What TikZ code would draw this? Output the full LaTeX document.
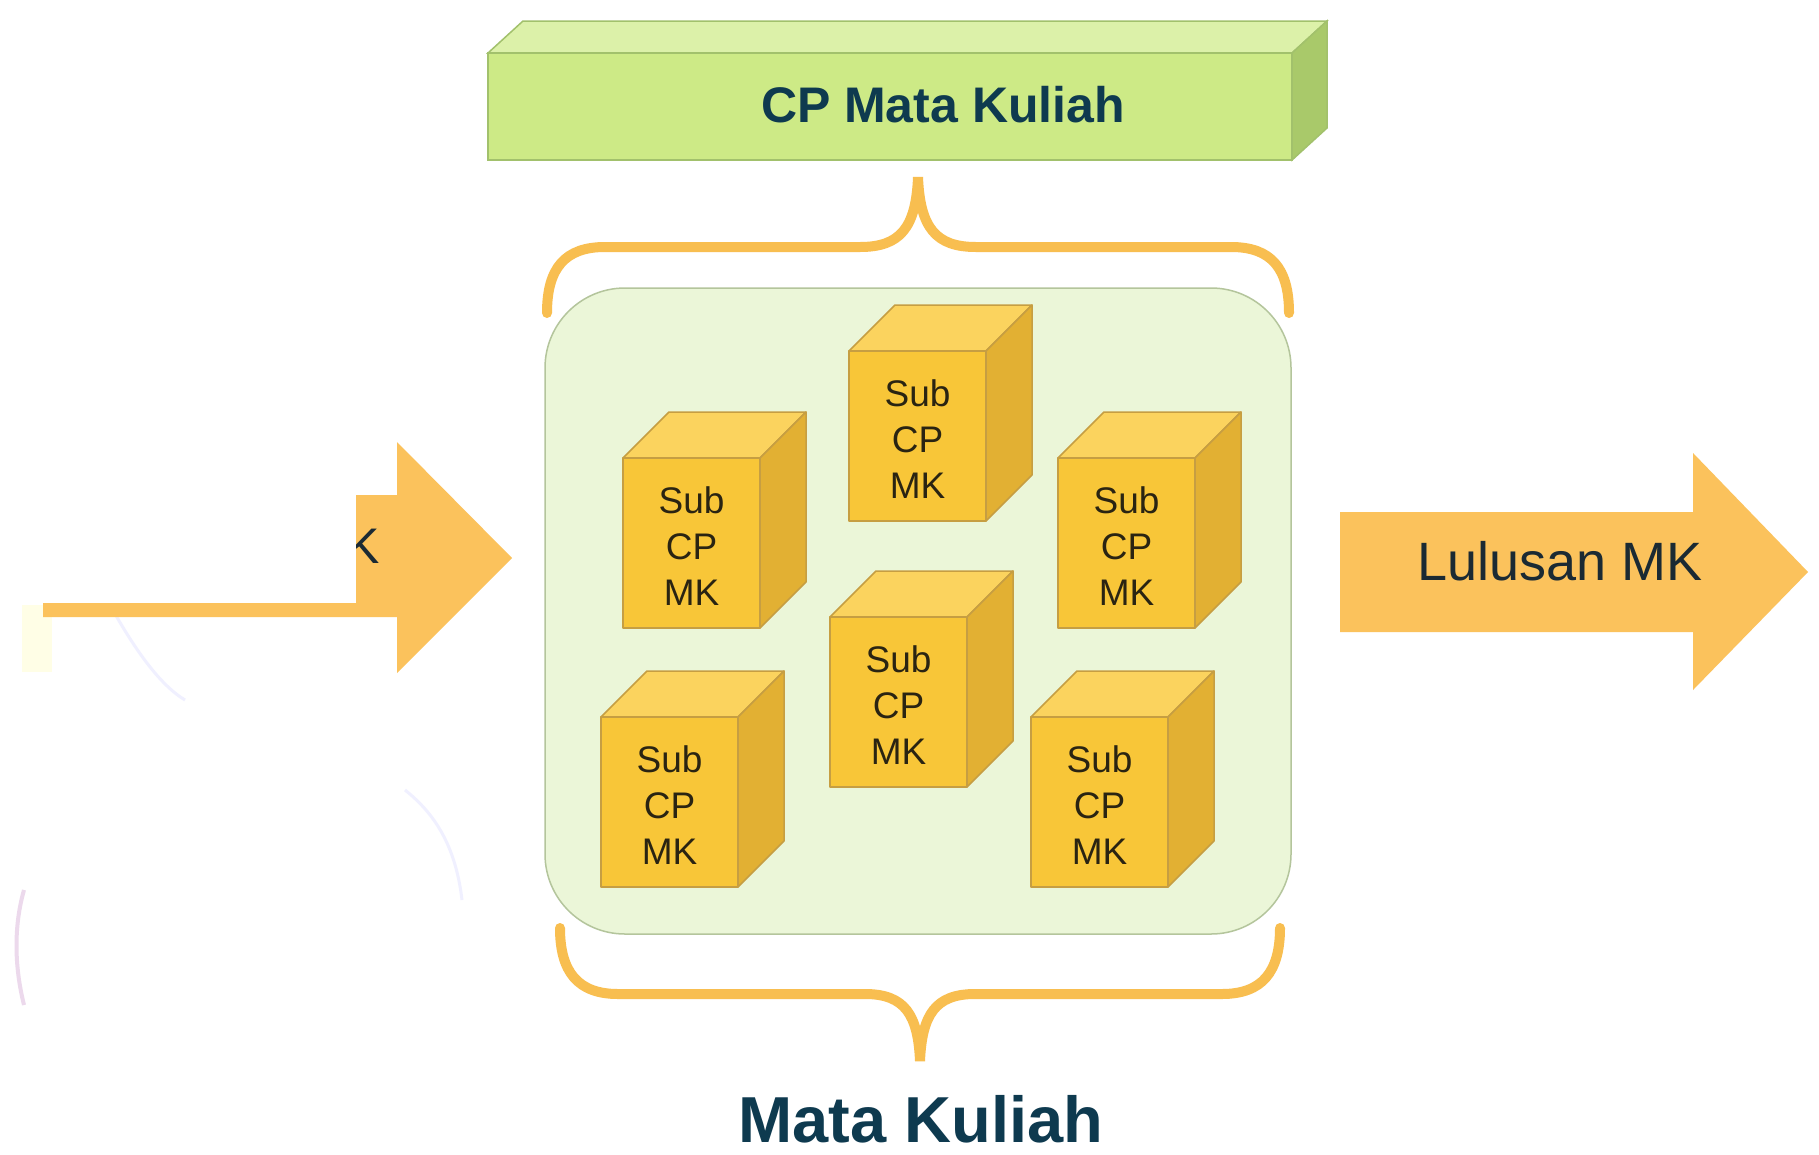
\documentclass[tikz,border=0pt]{standalone}
\usepackage{fontspec}
\setmainfont{Liberation Sans}
\definecolor{orng}{HTML}{FBC25C}
\definecolor{bracec}{HTML}{F8BE50}
\definecolor{barfront}{HTML}{CDEA86}
\definecolor{bartop}{HTML}{DCF1A9}
\definecolor{barside}{HTML}{A9C96A}
\definecolor{baredge}{HTML}{A2C16C}
\definecolor{panelfill}{HTML}{EBF6D8}
\definecolor{paneledge}{HTML}{B4C59C}
\definecolor{cubefront}{HTML}{F8C638}
\definecolor{cubetop}{HTML}{FBD35E}
\definecolor{cubeside}{HTML}{E2B033}
\definecolor{cubeedge}{HTML}{C69E42}
\definecolor{cubetxt}{HTML}{2A2412}
\definecolor{headtxt}{HTML}{0E3A4F}
\definecolor{arrtxt}{HTML}{1B2A33}
\tikzset{
  brace/.style={draw=bracec,line width=10pt,line cap=round},
  arrowfill/.style={fill=orng},
  cubetext/.style={font=\fontsize{37}{46}\selectfont,align=center,text=cubetxt,inner sep=0pt},
  headtext/.style={font=\bfseries\fontsize{50}{56}\selectfont,text=headtxt,inner sep=0pt},
  bigtext/.style={font=\bfseries\fontsize{65}{70}\selectfont,text=headtxt,inner sep=0pt},
  arrowtext/.style={font=\fontsize{54}{60}\selectfont,text=arrtxt,inner sep=0pt},
  cubeline/.style={draw=cubeedge,line width=1.5pt,line join=round}
}
\newcommand\subcube[3]{%
  \filldraw[cubeline,fill=cubetop] (#2,#3) -- ++(46,-46) -- ++(137,0) -- ++(-46,46) -- cycle;
  \filldraw[cubeline,fill=cubeside] (#2+137,#3) -- ++(46,-46) -- ++(0,170) -- ++(-46,46) -- cycle;
  \filldraw[cubeline,fill=cubefront] (#2,#3) rectangle ++(137,170);
  \node[cubetext] (#1) at (#2+68.5,#3+88) {Sub\\CP\\MK};
}
\begin{document}
\begin{tikzpicture}[x=1pt,y=-1pt]
\useasboundingbox (0,0) rectangle (1819,1154);
\fill[white] (0,0) rectangle (1819,1154);

% faint remnants at the left
\fill[yellow!10] (22,605) rectangle (52,672);
\draw[blue!6,line width=3pt] (110,605) .. controls (135,650) and (160,685) .. (185,700);
\draw[blue!6,line width=3pt] (405,790) .. controls (430,810) and (455,840) .. (462,900);
\draw[violet!15,line width=4pt] (24,890) .. controls (14,925) and (14,965) .. (24,1005);

% left arrow (partly hidden)
\fill[arrowfill] (356,495) -- (397,495) -- (397,442) -- (512,558) -- (397,673)
  -- (397,617) -- (43,617) -- (43,603) -- (356,603) -- cycle;
\begin{scope}
  \clip (356,495) rectangle (397,603);
  \node[arrowtext,font=\fontsize{50}{56}\selectfont,anchor=base east] (inmk) at (380,563) {MK};
\end{scope}

% right arrow
\fill[arrowfill] (1340,512) -- (1693,512) -- (1693,453) -- (1808,572) -- (1693,690)
  -- (1693,632) -- (1340,632) -- cycle;
\node[arrowtext,anchor=base] (out) at (1560,580) {Lulusan MK};

% top bar
\filldraw[fill=bartop,draw=baredge,line width=1.5pt] (488,53) -- (523,21) -- (1327,21) -- (1292,53) -- cycle;
\filldraw[fill=barside,draw=baredge,line width=1.5pt] (1292,53) -- (1327,21) -- (1327,128) -- (1292,160) -- cycle;
\filldraw[fill=barfront,draw=baredge,line width=1.5pt] (488,53) rectangle (1292,160);
\node[headtext] (cpmk) at (943,105) {CP Mata Kuliah};

% top brace
\draw[brace] (547,313) .. controls (547,268) and (565,247) .. (605,247) -- (860,247)
  .. controls (900,247) and (916,228) .. (918,177)
  .. controls (920,228) and (936,247) .. (976,247) -- (1231,247)
  .. controls (1271,247) and (1289,268) .. (1289,313);

% panel
\filldraw[fill=panelfill,draw=paneledge,line width=1.5pt,rounded corners=80pt] (545,288) rectangle (1291,934);

% cubes
\subcube{cb}{849}{351}
\subcube{ca}{623}{458}
\subcube{cc}{1058}{458}
\subcube{cd}{830}{617}
\subcube{ce}{601}{717}
\subcube{cf}{1031}{717}

% bottom brace
\draw[brace] (560,928) .. controls (560,972) and (578,994) .. (618,994) -- (865,994)
  .. controls (905,994) and (918,1015) .. (920,1061)
  .. controls (922,1015) and (935,994) .. (975,994) -- (1222,994)
  .. controls (1262,994) and (1280,972) .. (1280,928);

\node[bigtext] (mk) at (921,1119) {Mata Kuliah};
\end{tikzpicture}
\end{document}
